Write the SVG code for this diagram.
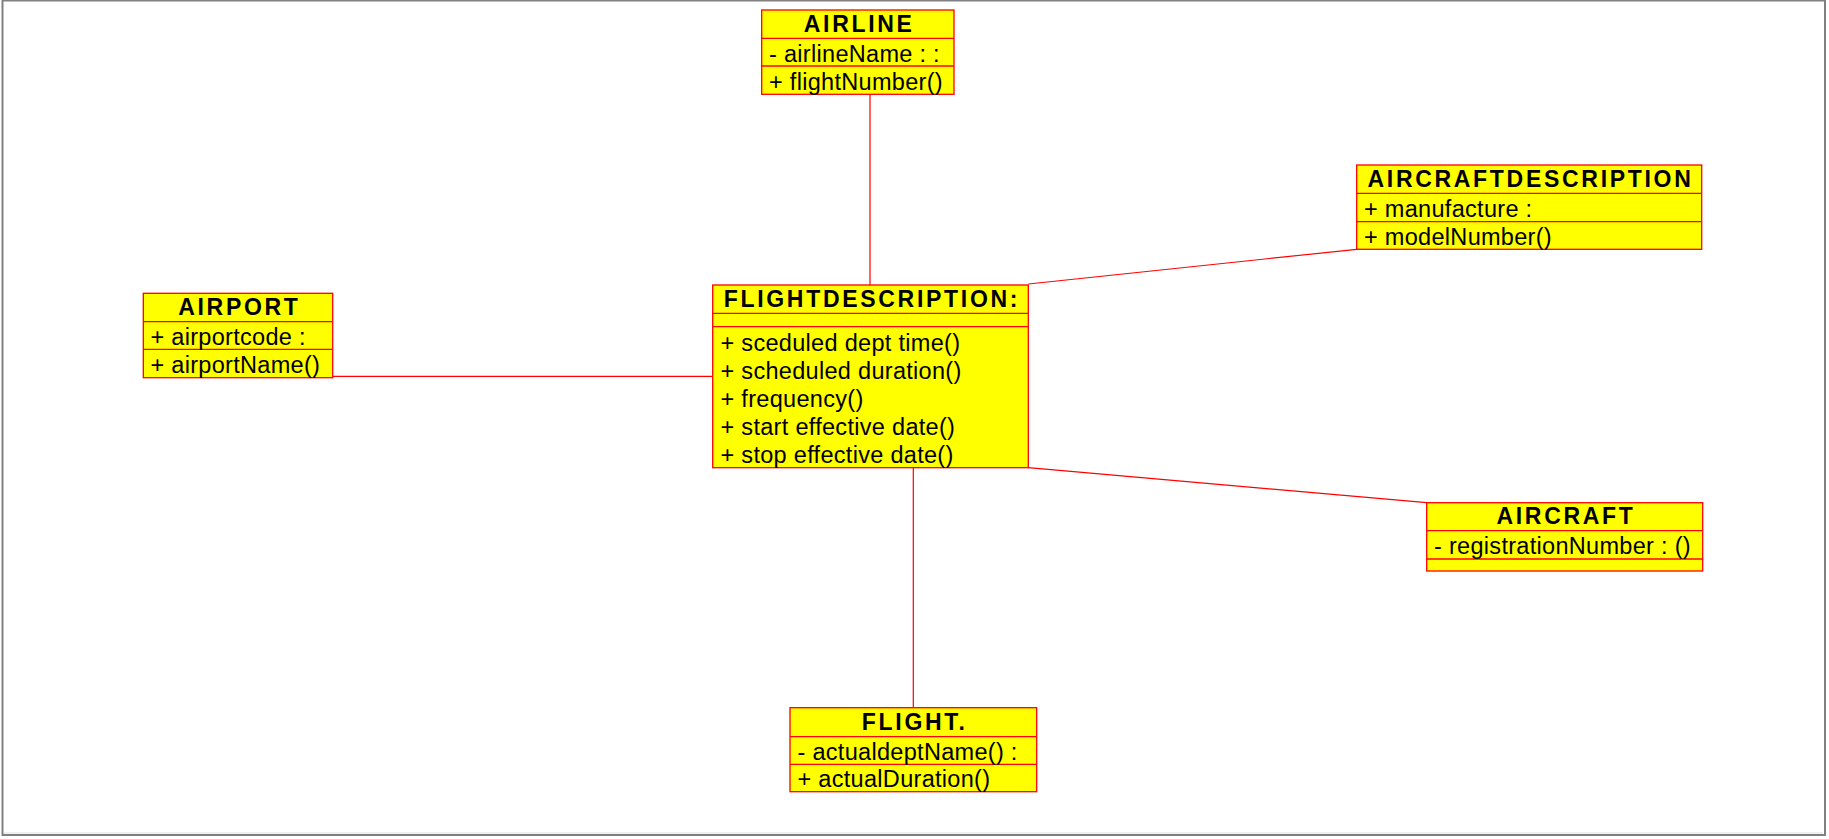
<svg xmlns="http://www.w3.org/2000/svg" width="1829" height="839" viewBox="0 0 1829 839">
<style>
.box{fill:#ffff00;stroke:#ff0000;stroke-width:1.3}
.sep{stroke:#ff0000;stroke-width:1.3}
.title{font-family:"Liberation Sans",Arial,sans-serif;font-weight:bold;font-size:23px;letter-spacing:2.7px;text-anchor:middle;fill:#000}
.txt{font-family:"Liberation Sans",Arial,sans-serif;font-size:23.5px;letter-spacing:0.3px;fill:#000}
.conn line{stroke:#ff0000;stroke-width:1.2}
</style>
<rect x="0" y="0" width="1829" height="839" fill="#ffffff"/>
<rect x="2.5" y="0.5" width="1822.5" height="834.5" fill="none" stroke="#808080" stroke-width="2"/>
<line x1="4" y1="833" x2="1823" y2="833" stroke="#e0e0e0" stroke-width="1"/>
<g id="connectors" class="conn">
<line x1="870" y1="94.3" x2="870" y2="285"/>
<line x1="332.7" y1="376.3" x2="712.7" y2="376.3"/>
<line x1="1028.3" y1="284" x2="1356.7" y2="249.3"/>
<line x1="1028.3" y1="467.7" x2="1426.7" y2="502.7"/>
<line x1="913.3" y1="467.7" x2="913.3" y2="707.7"/>
</g>
<g id="airline">
<rect class="box" x="761.7" y="10" width="192.3" height="84.3"/>
<line class="sep" x1="761.7" y1="38.3" x2="954" y2="38.3"/>
<line class="sep" x1="761.7" y1="66" x2="954" y2="66"/>
<text class="title" x="859.2" y="31.5">AIRLINE</text>
<text class="txt" x="769" y="61.5">- airlineName : :</text>
<text class="txt" x="769" y="89.5">+ flightNumber()</text>
</g>
<g id="aircraftdescription">
<rect class="box" x="1356.7" y="165" width="345" height="84.3"/>
<line class="sep" x1="1356.7" y1="193.3" x2="1701.7" y2="193.3"/>
<line class="sep" x1="1356.7" y1="221.7" x2="1701.7" y2="221.7"/>
<text class="title" x="1530.5" y="186.5">AIRCRAFTDESCRIPTION</text>
<text class="txt" x="1364" y="216.5">+ manufacture :</text>
<text class="txt" x="1364" y="244.5">+ modelNumber()</text>
</g>
<g id="airport">
<rect class="box" x="143.3" y="293.3" width="189.4" height="84.4"/>
<line class="sep" x1="143.3" y1="321.7" x2="332.7" y2="321.7"/>
<line class="sep" x1="143.3" y1="349.3" x2="332.7" y2="349.3"/>
<text class="title" x="239.4" y="315">AIRPORT</text>
<text class="txt" x="150.5" y="344.5">+ airportcode :</text>
<text class="txt" x="150.5" y="372.5">+ airportName()</text>
</g>
<g id="flightdescription">
<rect class="box" x="712.7" y="285" width="315.6" height="182.7"/>
<line class="sep" x1="712.7" y1="313.3" x2="1028.3" y2="313.3"/>
<line class="sep" x1="712.7" y1="326.7" x2="1028.3" y2="326.7" stroke-width="2"/>
<text class="title" x="871.9" y="306.5">FLIGHTDESCRIPTION:</text>
<text class="txt" x="720.5" y="350.5">+ sceduled dept time()</text>
<text class="txt" x="720.5" y="378.7">+ scheduled duration()</text>
<text class="txt" x="720.5" y="406.9">+ frequency()</text>
<text class="txt" x="720.5" y="435.1">+ start effective date()</text>
<text class="txt" x="720.5" y="463.3">+ stop effective date()</text>
</g>
<g id="aircraft">
<rect class="box" x="1426.7" y="502.7" width="276" height="68.3"/>
<line class="sep" x1="1426.7" y1="530.7" x2="1702.7" y2="530.7"/>
<line class="sep" x1="1426.7" y1="559" x2="1702.7" y2="559"/>
<text class="title" x="1566" y="524">AIRCRAFT</text>
<text class="txt" x="1434" y="553.5">- registrationNumber : ()</text>
</g>
<g id="flight">
<rect class="box" x="790" y="707.7" width="246.7" height="84"/>
<line class="sep" x1="790" y1="736.7" x2="1036.7" y2="736.7"/>
<line class="sep" x1="790" y1="764.3" x2="1036.7" y2="764.3"/>
<text class="title" x="914.7" y="729.5">FLIGHT.</text>
<text class="txt" x="797.5" y="759.5">- actualdeptName() :</text>
<text class="txt" x="797.5" y="787">+ actualDuration()</text>
</g>
</svg>
